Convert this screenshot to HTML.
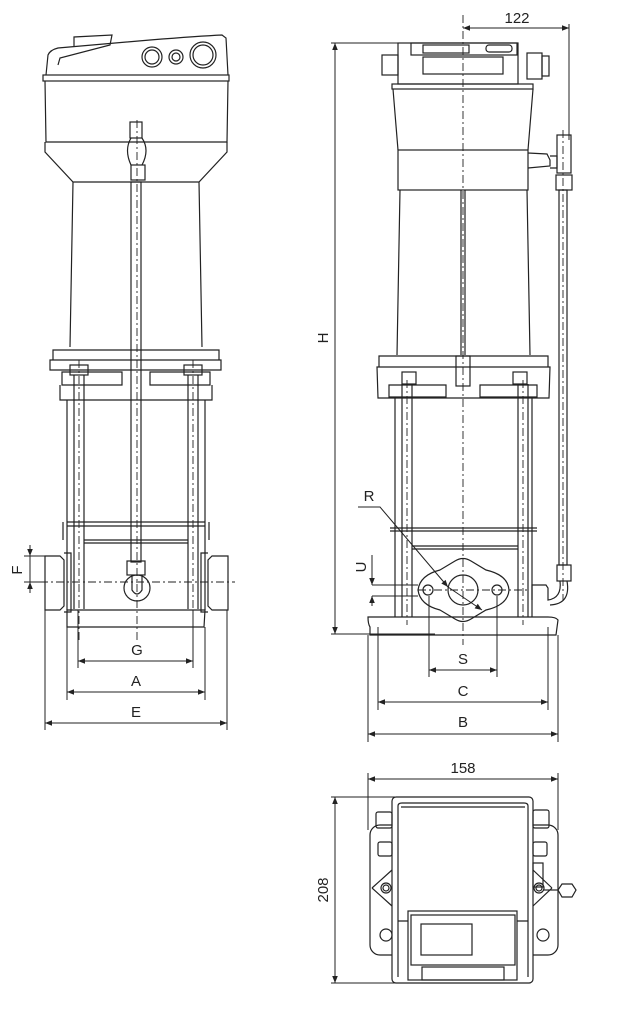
<!DOCTYPE html>
<html><head><meta charset="utf-8"><style>
html,body{margin:0;padding:0;background:#fff}
svg{display:block}
text{font-family:"Liberation Sans",sans-serif;font-size:15px;fill:#222}
</style></head><body>
<svg width="618" height="1011" viewBox="0 0 618 1011" xmlns="http://www.w3.org/2000/svg">
<defs>
<marker id="a" viewBox="0 0 10 10" refX="10" refY="5" markerWidth="9" markerHeight="7" orient="auto-start-reverse" markerUnits="userSpaceOnUse"><path d="M0,1 L10,5 L0,9z" fill="#222"/></marker>
</defs>
<g fill="none" stroke="#222" stroke-width="1.2">
<!-- LEFT VIEW -->
<path d="M46,75 L48,55 Q50,50 58,48 L150,40 Q200,36 222,35 L226,38 L228,75"/>
<path d="M58,65 L60,58 L110,45 L112,35 L74,37 L74,46"/>
<circle cx="152" cy="57" r="10"/><circle cx="152" cy="57" r="7"/>
<circle cx="176" cy="57" r="7"/><circle cx="176" cy="57" r="4"/>
<circle cx="203" cy="55" r="13"/><circle cx="203" cy="55" r="10"/>
<rect x="43" y="75" width="186" height="6"/>
<path d="M45,81 L46,142 L227,142 L228,81"/>
<path d="M45,142 L45,152 L73,182 L199,182 L227,152 L227,142"/>
<path d="M73,182 L70,347 M199,182 L202,347"/>
<path d="M53,350 L219,350 L219,360 L53,360 Z M50,360 L221,360 L221,370 L50,370 Z"/>
<path d="M62,372 L62,385 L122,385 L122,372 Z M150,372 L150,385 L210,385 L210,372 Z"/>
<rect x="70" y="365" width="18" height="10"/><rect x="184" y="365" width="18" height="10"/>
<path d="M60,385 L60,400 L212,400 L212,385"/>
<path d="M67,400 L67,610 M205,400 L205,610"/>
<path d="M74,375 L74,609 M84,375 L84,609 M188,375 L188,609 M198,375 L198,609"/>
<path d="M67,522 L205,522 M67,526 L205,526 M84,540 L188,540 M84,543 L188,543"/>
<path d="M63,522 L63,540 M209,522 L209,540"/>
<rect x="131" y="182" width="10" height="380"/>
<rect x="130" y="122" width="12" height="16"/><rect x="131" y="165" width="14" height="15"/>
<path d="M131,138 Q124,150 131,165 M142,138 Q150,150 142,165"/>
<rect x="127" y="561" width="18" height="14"/>
<circle cx="137" cy="588" r="13"/><path d="M132,575 L132,590 Q137,598 142,590 L142,575"/>
<path d="M45,556 L60,556 L64,560 L64,606 L60,610 L45,610 Z M64,553 L71,553 L71,612 L64,612"/>
<path d="M228,556 L212,556 L208,560 L208,606 L212,610 L228,610 Z M208,553 L201,553 L201,612 L208,612"/>
<path d="M67,610 L205,610 L204,627 L67,627 Z"/>
<g stroke-width="1">
<path d="M24,556 L45,556 M24,582 L40,582"/>
<path d="M30,545 L30,556" marker-end="url(#a)"/><path d="M30,593 L30,582" marker-end="url(#a)"/>
<path d="M30,556 L30,582"/>
<path d="M78,610 L78,668 M193,610 L193,668 M67,627 L67,700 M205,627 L205,700 M45,610 L45,730 M227,610 L227,730"/>
<path d="M78,661 L193,661" marker-start="url(#a)" marker-end="url(#a)"/>
<path d="M67,692 L205,692" marker-start="url(#a)" marker-end="url(#a)"/>
<path d="M45,723 L227,723" marker-start="url(#a)" marker-end="url(#a)"/>
</g>
<g stroke-width="0.9" stroke-dasharray="8,3,2,3">
<path d="M40,582 L235,582"/>
<path d="M137,120 L137,640"/>
<path d="M79,360 L79,640 M193,360 L193,640"/>
</g>
<!-- RIGHT VIEW -->
<rect x="398" y="43" width="120" height="41"/>
<rect x="411" y="43" width="106" height="12"/>
<rect x="423" y="45" width="46" height="8"/><rect x="486" y="45" width="26" height="7" rx="3"/>
<rect x="423" y="57" width="80" height="17"/>
<rect x="382" y="55" width="16" height="20"/>
<rect x="527" y="53" width="15" height="26"/><rect x="542" y="56" width="7" height="20"/>
<rect x="392" y="84" width="141" height="5"/>
<path d="M393,89 L398,150 M533,89 L528,150"/>
<rect x="398" y="150" width="130" height="40"/>
<path d="M400,190 L397,355 M527,190 L530,355"/>
<path d="M461,190 L461,355 M465,190 L465,355"/>
<path d="M528,153 L547,154 L550,160 L550,166 L528,168 M550,156 L557,156 L557,168 L550,168"/>
<rect x="557" y="135" width="14" height="38"/><rect x="556" y="175" width="16" height="15"/>
<rect x="559" y="190" width="8" height="375"/>
<rect x="557" y="565" width="14" height="16"/>
<path d="M560,581 Q562,598 548,600 L548,588 L546,585 L532,585 L532,600 M567,581 Q571,604 550,605"/>
<path d="M379,356 L548,356 L548,367 L379,367 Z M377,367 L550,367 L549,398 L378,398 Z"/>
<path d="M389,385 L389,397 L446,397 L446,385 Z M480,385 L480,397 L537,397 L537,385 Z"/>
<rect x="402" y="372" width="14" height="12"/><rect x="513" y="372" width="14" height="12"/>
<rect x="456" y="356" width="14" height="30"/>
<path d="M395,398 L395,617 M532,398 L532,617"/>
<path d="M402,384 L402,617 M412,384 L412,617 M518,384 L518,617 M528,384 L528,617"/>
<path d="M390,528 L537,528 M390,531 L537,531 M412,546 L518,546 M412,549 L518,549"/>
<path d="M418,590 Q420,575 440,570 L455,561 Q463,556 471,561 L486,570 Q508,575 509,590 Q508,605 486,610 L471,619 Q463,624 455,619 L440,610 Q420,605 418,590 Z" fill="#fff"/>
<circle cx="463" cy="590" r="15"/>
<circle cx="428" cy="590" r="5"/><circle cx="497" cy="590" r="5"/>
<path d="M368,617 Q368,624 370,627 L370,635 L556,635 L558,620 Q556,617 548,617 Z"/>
<g stroke-width="1">
<path d="M331,43 L435,43 M331,634 L435,634"/>
<path d="M335,43 L335,634" marker-start="url(#a)" marker-end="url(#a)"/>
<path d="M463,28 L569,28" marker-start="url(#a)" marker-end="url(#a)"/>
<path d="M569,24 L569,140"/>
<path d="M372,585 L418,585 M372,596 L418,596"/>
<path d="M372,555 L372,585" marker-end="url(#a)"/><path d="M372,606 L372,596" marker-end="url(#a)"/>
<path d="M358,507 L380,507 L448,587" marker-end="url(#a)"/>
<path d="M448,587 L482,610" marker-end="url(#a)"/>
<path d="M429,596 L429,677 M497,596 L497,677 M378,627 L378,710 M548,627 L548,710 M368,635 L368,742 M558,635 L558,742"/>
<path d="M429,670 L497,670" marker-start="url(#a)" marker-end="url(#a)"/>
<path d="M378,702 L548,702" marker-start="url(#a)" marker-end="url(#a)"/>
<path d="M368,734 L558,734" marker-start="url(#a)" marker-end="url(#a)"/>
</g>
<g stroke-width="0.9" stroke-dasharray="8,3,2,3">
<path d="M463,15 L463,645"/>
<path d="M563,130 L563,600"/>
<path d="M407,380 L407,625 M523,380 L523,625"/>
<path d="M418,590 L530,590"/>
</g>
<!-- BOTTOM VIEW -->
<rect x="370" y="825" width="188" height="130" rx="10"/>
<rect x="392" y="797" width="141" height="186" rx="4" fill="#fff"/>
<path d="M398,977 L398,806 Q398,803 402,803 L524,803 Q528,803 528,806 L528,977"/>
<path d="M401,807 L525,807"/>
<rect x="408" y="911" width="109" height="69"/>
<rect x="411" y="915" width="104" height="50"/>
<rect x="421" y="924" width="51" height="31"/>
<rect x="422" y="967" width="82" height="13"/>
<path d="M398,921 L408,921 M517,921 L528,921"/>
<circle cx="386" cy="935" r="6"/><circle cx="543" cy="935" r="6"/>
<circle cx="386" cy="888" r="5"/><circle cx="386" cy="888" r="3"/>
<circle cx="539" cy="888" r="5"/><circle cx="539" cy="888" r="3"/>
<path d="M372,888 L392,870 M372,888 L392,906 M552,888 L533,870 M552,888 L533,906"/>
<rect x="376" y="812" width="16" height="16" rx="2"/><rect x="378" y="842" width="14" height="14" rx="2"/>
<rect x="533" y="810" width="16" height="18" rx="2"/><rect x="533" y="842" width="14" height="14" rx="2"/>
<rect x="533" y="863" width="10" height="24"/>
<path d="M562,884 L572,884 L576,890 L572,897 L562,897 L558,890 Z"/>
<path d="M543,890 L558,890"/>
<g stroke-width="1">
<path d="M368,773 L368,830 M558,773 L558,830"/>
<path d="M368,779 L558,779" marker-start="url(#a)" marker-end="url(#a)"/>
<path d="M331,797 L395,797 M331,983 L455,983"/>
<path d="M335,797 L335,983" marker-start="url(#a)" marker-end="url(#a)"/>
</g>
</g>
<text x="137" y="655" text-anchor="middle">G</text>
<text x="136" y="686" text-anchor="middle">A</text>
<text x="136" y="717" text-anchor="middle">E</text>
<text x="22" y="570" text-anchor="middle" transform="rotate(-90 22 570)">F</text>
<text x="517" y="23" text-anchor="middle">122</text>
<text x="328" y="338" text-anchor="middle" transform="rotate(-90 328 338)">H</text>
<text x="369" y="501" text-anchor="middle">R</text>
<text x="366" y="567" text-anchor="middle" transform="rotate(-90 366 567)">U</text>
<text x="463" y="664" text-anchor="middle">S</text>
<text x="463" y="696" text-anchor="middle">C</text>
<text x="463" y="727" text-anchor="middle">B</text>
<text x="463" y="773" text-anchor="middle">158</text>
<text x="328" y="890" text-anchor="middle" transform="rotate(-90 328 890)">208</text>
</svg>
</body></html>
